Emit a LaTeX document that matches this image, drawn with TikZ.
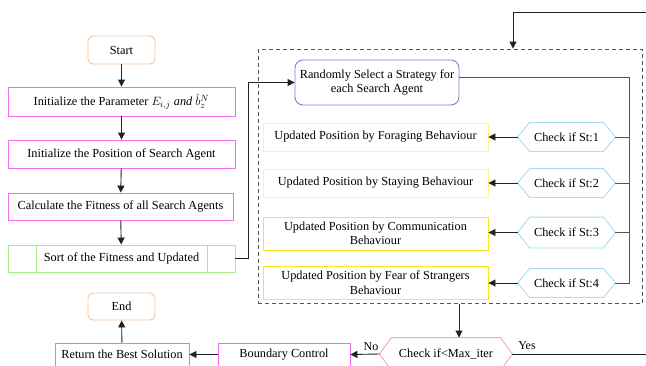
\documentclass[tikz,border=0pt]{standalone}
\usepackage{fontspec}
\setmainfont{Liberation Serif}
\usetikzlibrary{arrows.meta,calc}
\definecolor{peach}{HTML}{F8C49C}
\definecolor{mag}{HTML}{F06CF0}
\definecolor{grn}{HTML}{A6EC86}
\definecolor{purp}{HTML}{9A70CC}
\definecolor{paley}{HTML}{FFF58A}
\definecolor{yel}{HTML}{FFE81A}
\definecolor{hexb}{HTML}{A8DDF6}
\definecolor{pnk}{HTML}{F6A8B2}
\definecolor{ln}{HTML}{222222}
\definecolor{lg}{HTML}{555555}
\newcommand{\hexdraw}[2]{%
  \draw[#2, line width=0.9pt] (#1.west) -- ($(#1.north west)+(12,0)$) -- ($(#1.north east)+(-12,0)$) -- (#1.east) -- ($(#1.south east)+(-12,0)$) -- ($(#1.south west)+(12,0)$) -- cycle;}
\begin{document}
\begin{tikzpicture}[x=1pt,y=-1pt,
  font=\fontsize{12.3}{14.5}\selectfont,
  base/.style={line width=0.9pt, inner sep=1pt, align=center},
  term/.style={base, draw=peach, rounded corners=5pt, minimum width=67pt, minimum height=28pt},
  proc/.style={base, draw=mag},
  ybox/.style={base, minimum width=225pt},
  hexn/.style={base, minimum width=97pt, minimum height=28pt},
  arr/.style={draw=ln, line width=0.9pt, -{Triangle[length=7pt,width=7pt]}},
  conn/.style={draw=lg, line width=0.9pt},
  lbl/.style={inner sep=0pt, font=\fontsize{12}{14}\selectfont}]
\useasboundingbox (0,0) rectangle (646,365);
\clip (0,0) rectangle (646,365);
\fill[white] (0,0) rectangle (646,365);

% left column
\node[term] (start) at (121.5,50) {Start};
\node[proc, minimum width=227pt, minimum height=29pt] (p1) at (121.5,101.5) {Initialize the Parameter $E_{i,j}$ \textit{and} $\hat{b}_{z}^{N}$};
\node[proc, minimum width=227pt, minimum height=28pt] (p2) at (121.5,154) {Initialize the Position of Search Agent};
\node[proc, minimum width=225pt, minimum height=27pt] (p3) at (120.5,206.5) {Calculate the Fitness of all Search Agents};
\node[base, draw=grn, minimum width=227pt, minimum height=27pt] (p4) at (121.5,258.5) {Sort of the Fitness and Updated};
\draw[grn, line width=0.9pt] ([xshift=28.5pt]p4.north west) -- ([xshift=28.5pt]p4.south west);
\draw[grn, line width=0.9pt] ([xshift=-28.5pt]p4.north east) -- ([xshift=-28.5pt]p4.south east);
\node[term, minimum height=27pt] (end) at (121.5,306.5) {End};
\node[proc, minimum width=134pt, minimum height=23pt] (ret) at (122,354.5) {Return the Best Solution};
\node[proc, minimum width=132pt, minimum height=23pt] (bnd) at (284,354.5) {Boundary Control};
\node[base, minimum width=132pt, minimum height=32pt] (maxit) at (446,354) {Check if<Max\_iter};
\hexdraw{maxit}{pnk}

% loop box
\node[draw=lg, dashed, dash pattern=on 4pt off 3pt, line width=0.9pt, minimum width=384pt, minimum height=254.5pt, inner sep=0pt] (loop) at (450,176.25) {};
\node[base, draw=purp, rounded corners=8pt, minimum width=164pt, minimum height=45pt] (rnd) at (377,82.5) {Randomly Select a Strategy for\\each Search Agent};

\node[ybox, draw=paley, minimum height=28pt] (f1) at (375.5,137) {Updated Position by Foraging Behaviour};
\node[ybox, draw=paley, minimum height=28pt] (f2) at (375.5,183) {Updated Position by Staying Behaviour};
\node[ybox, draw=yel, minimum height=33pt] (f3) at (375.5,233.5) {Updated Position by Communication\\Behaviour};
\node[ybox, draw=yel, minimum height=33pt] (f4) at (375.5,282.5) {Updated Position by Fear of Strangers\\Behaviour};

\node[hexn] (c1) at (566.5,137) {Check if St:1};
\node[hexn] (c2) at (566.5,183) {Check if St:2};
\node[hexn, minimum height=30pt] (c3) at (566.5,232.5) {Check if St:3};
\node[hexn, minimum height=28pt] (c4) at (566.5,283) {Check if St:4};
\hexdraw{c1}{hexb}
\hexdraw{c2}{hexb}
\hexdraw{c3}{hexb}
\hexdraw{c4}{hexb}

\coordinate (rv) at (629,0);
\coordinate (bx) at (459,0);
\coordinate (yr) at (662,12);
\coordinate (yt) at (513,12);

% connectors left column
\draw[arr] (start) -- (p1);
\draw[arr] (p1) -- (p2);
\draw[arr] (p2) -- (p3);
\draw[arr] (p3) -- (p4);
\draw[arr] (ret) -- (end);
\draw[arr] (bnd) -- (ret);
\draw[arr] (maxit.west) -- (bnd.east);
\draw[arr] (p4.east) -- ++(13,0) |- (rnd.west);

% right connectors
\draw[conn] ($(rnd.east)+(0,-5.5)$) -| (c4.east -| rv) -- (c4.east);
\draw[conn] (c1.east) -- (c1.east -| rv);
\draw[conn] (c2.east) -- (c2.east -| rv);
\draw[conn] (c3.east) -- (c3.east -| rv);
\draw[arr] (c1.west) -- (c1.west -| f1.east);
\draw[arr] (c2.west) -- (c2.west -| f2.east);
\draw[arr] (c3.west) -- (c3.west -| f3.east);
\draw[arr] (c4.west) -- (c4.west -| f4.east);

% loop exit and return
\draw[arr] (loop.south -| bx) -- (maxit.north -| bx);
\draw[arr] (maxit.east) -| (yr) -- (yt) -- (loop.north -| yt);

\node[lbl] (no) at (371,347) {No};
\node[lbl] (yes) at (527,346) {Yes};
\end{tikzpicture}
\end{document}
